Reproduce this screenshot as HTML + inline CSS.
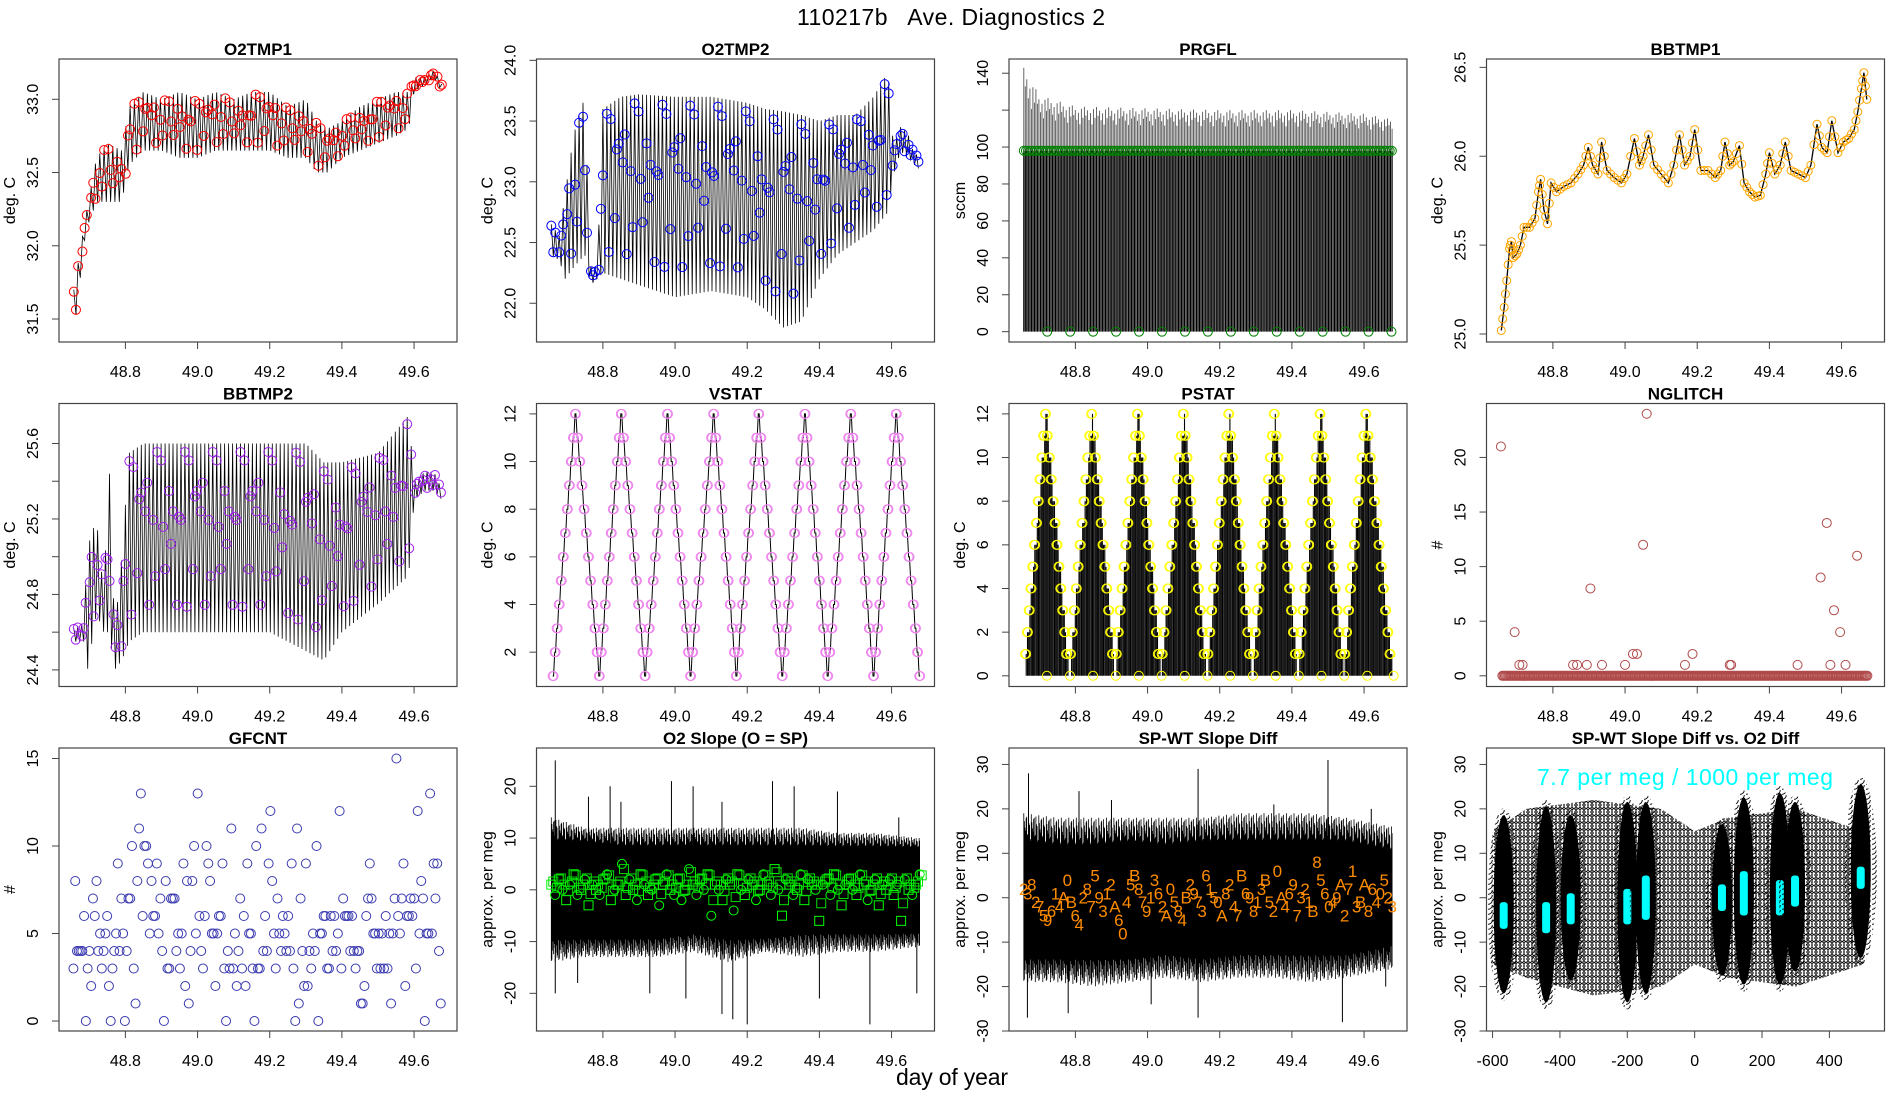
<!DOCTYPE html>
<html><head><meta charset="utf-8"><title>110217b Ave. Diagnostics 2</title>
<style>
html,body{margin:0;padding:0;background:#fff;}
svg{display:block;font-family:"Liberation Sans",sans-serif;}
</style></head>
<body>
<svg id="chart" xmlns="http://www.w3.org/2000/svg" width="1900" height="1100" viewBox="0 0 1900 1100">
<defs>
<pattern id="circpat" width="8" height="7" patternUnits="userSpaceOnUse">
<circle cx="4" cy="3.5" r="4.3" fill="none" stroke="#000" stroke-width="0.8"/>
<circle cx="0" cy="0" r="4.3" fill="none" stroke="#000" stroke-width="0.8"/>
<circle cx="8" cy="0" r="4.3" fill="none" stroke="#000" stroke-width="0.8"/>
<circle cx="0" cy="7" r="4.3" fill="none" stroke="#000" stroke-width="0.8"/>
<circle cx="8" cy="7" r="4.3" fill="none" stroke="#000" stroke-width="0.8"/>
</pattern>
<pattern id="circpat2" width="6" height="5" patternUnits="userSpaceOnUse">
<circle cx="3" cy="2.5" r="4.3" fill="none" stroke="#000" stroke-width="0.9"/>
<circle cx="0" cy="0" r="4.3" fill="none" stroke="#000" stroke-width="0.9"/>
</pattern>
</defs>
<text x="797" y="25" font-size="23" textLength="308" xml:space="preserve">110217b   Ave. Diagnostics 2</text>
<text x="896" y="1085" font-size="23" textLength="112">day of year</text>
</svg>
<script>
// ---------- data ----------
const p1T=[48.657,48.69,48.72,48.75,48.79,48.81,48.85,48.9,48.95,49.0,49.05,49.1,49.15,49.2,49.25,49.3,49.33,49.36,49.4,49.45,49.5,49.55,49.585,49.6,49.63,49.655,49.678];
const p1Lo=[31.4,32.1,32.3,32.3,32.3,32.55,32.65,32.65,32.6,32.6,32.65,32.65,32.65,32.65,32.6,32.6,32.5,32.5,32.6,32.65,32.7,32.75,32.8,33.05,33.1,33.15,33.05];
const p1Hi=[31.7,32.2,32.6,32.7,32.65,32.95,33.05,33.0,33.05,33.0,33.05,33.0,33.05,33.05,32.95,33.0,32.85,32.8,32.85,32.95,33.0,33.05,33.05,33.15,33.15,33.2,33.1];

const p2T=[48.657,48.68,48.695,48.72,48.75,48.765,48.785,48.8,48.85,48.9,49.0,49.1,49.2,49.25,49.3,49.35,49.4,49.45,49.5,49.55,49.59,49.605,49.625,49.645,49.66,49.678];
const p2Lo=[22.4,22.35,22.2,22.3,22.4,22.15,22.2,22.25,22.2,22.15,22.05,22.1,22.05,21.95,21.8,21.85,22.2,22.4,22.5,22.6,22.75,23.05,23.25,23.2,23.15,23.1];
const p2Hi=[22.65,22.55,22.9,23.4,23.7,22.3,22.3,23.6,23.7,23.72,23.7,23.7,23.65,23.6,23.58,23.55,23.5,23.55,23.55,23.7,23.9,23.3,23.45,23.4,23.25,23.2];

const p3TopT=[48.657,48.68,48.7,48.75,48.8,49.0,49.2,49.4,49.6,49.678];
const p3TopV=[143,135,128,125,122,121,120,120,118,115];
const p3Level=98;

const p4T=[48.657,48.665,48.672,48.68,48.685,48.69,48.7,48.71,48.72,48.735,48.75,48.76,48.766,48.775,48.785,48.795,48.81,48.83,48.85,48.87,48.885,48.898,48.91,48.925,48.935,48.95,48.97,48.99,49.005,49.026,49.04,49.05,49.065,49.08,49.1,49.12,49.135,49.151,49.165,49.18,49.193,49.21,49.23,49.25,49.265,49.277,49.29,49.3,49.317,49.33,49.345,49.36,49.375,49.39,49.4,49.415,49.43,49.444,49.46,49.48,49.5,49.515,49.532,49.545,49.56,49.573,49.59,49.605,49.62,49.635,49.645,49.655,49.662,49.67];
const p4V=[25.02,25.15,25.3,25.48,25.52,25.43,25.45,25.5,25.6,25.6,25.65,25.8,25.87,25.7,25.62,25.85,25.8,25.83,25.85,25.9,25.95,26.05,25.95,25.9,26.08,25.92,25.88,25.85,25.9,26.1,25.95,26.0,26.12,25.95,25.9,25.85,25.95,26.12,25.95,26.0,26.15,25.92,25.92,25.88,25.92,26.08,25.95,25.97,26.06,25.85,25.8,25.77,25.78,25.9,26.02,25.9,25.95,26.08,25.92,25.9,25.88,25.95,26.18,26.05,26.02,26.2,26.02,26.08,26.1,26.15,26.25,26.38,26.47,26.32];

const p5T=[48.657,48.685,48.695,48.72,48.74,48.755,48.77,48.79,48.81,48.85,48.9,49.0,49.1,49.2,49.3,49.35,49.4,49.5,49.585,49.6,49.63,49.655,49.678];
const p5Lo=[24.55,24.55,24.4,24.7,24.6,24.6,24.4,24.45,24.55,24.6,24.6,24.6,24.6,24.6,24.5,24.45,24.6,24.75,24.9,25.3,25.35,25.35,25.3];
const p5Hi=[24.62,24.65,25.05,25.2,24.8,25.5,24.6,25.0,25.55,25.6,25.6,25.6,25.6,25.6,25.6,25.5,25.5,25.55,25.75,25.4,25.45,25.45,25.35];

const p6PeakT=[48.724,48.851,48.979,49.107,49.232,49.36,49.487,49.613];
const p6TroughT=[48.662,48.79,48.917,49.043,49.17,49.297,49.423,49.55,49.678];
const p6PeakV=12, p6TroughV=1;

const p7PeakT=[48.717,48.845,48.972,49.099,49.225,49.351,49.478,49.605];
const p7TroughT=[48.657,48.781,48.908,49.035,49.162,49.288,49.415,49.541,49.678];
const p7PeakV=12, p7TroughV=0;

const p8T=[48.656,48.694,48.707,48.716,48.856,48.867,48.894,48.904,48.936,49.0,49.022,49.033,49.05,49.06,49.166,49.187,49.29,49.294,49.478,49.542,49.559,49.569,49.579,49.596,49.611,49.643];
const p8V=[21,4,1,1,1,1,1,8,1,1,2,2,12,24,1,2,1,1,1,9,14,1,6,4,1,11];
const p8ZeroRange=[48.66,49.675];

const p9V=[3,8,4,4,4,4,6,0,3,4,2,7,6,8,4,5,3,4,5,6,2,0,3,4,5,9,4,7,5,0,4,7,7,10,3,1,8,11,13,6,10,10,9,5,8,6,6,9,5,7,4,0,8,3,3,7,7,7,4,5,3,5,9,2,8,1,4,8,10,5,13,6,4,3,6,10,9,8,5,5,2,5,6,6,9,3,0,4,3,11,3,5,2,4,7,3,6,2,9,5,5,3,0,10,3,3,11,4,6,4,9,12,8,5,3,7,5,4,6,5,4,6,4,9,3,0,11,1,7,4,2,9,2,4,3,5,4,10,0,5,5,6,6,3,3,6,4,6,4,5,12,3,7,6,6,6,4,6,4,3,4,4,1,1,2,6,7,9,7,5,5,3,5,3,5,3,6,3,5,1,5,7,15,6,5,7,9,2,6,6,7,6,7,3,12,5,8,7,0,5,5,13,5,9,7,9,4,1];
const p9Range=[48.656,49.674];

const p10T=[48.657,48.75,48.85,48.95,49.05,49.15,49.25,49.35,49.45,49.55,49.678];
const p10InHi=[9,9,8,8,8,8,8,8,8,8,8];
const p10InLo=[-9,-9,-9,-9,-8,-9,-9,-8,-8,-8,-8];
const p10OutHi=[14,12,12,12,12,12,12,12,11,11,10];
const p10OutLo=[-14,-13,-13,-13,-12,-14,-12,-13,-12,-12,-11];
const p10SpikeT=[48.668,48.668,48.73,48.76,48.82,48.85,48.93,48.99,49.03,49.05,49.13,49.13,49.16,49.2,49.27,49.33,49.4,49.45,49.54,49.62,49.67];
const p10SpikeV=[25,-20,-18,18,20,17,-20,21,-21,20,17,-24,-25,-26,21,20,-21,19,-26,14,-20];
const p10G=[1,-1,2,0,-2,1,3,-1,0,2,-3,1,0,-1,2,3,-2,0,1,5,-1,2,0,-2,3,1,-1,0,2,-3,1,3,0,-1,2,-2,0,4,1,-1,2,0,3,-5,1,0,-2,2,1,-4,3,0,-1,2,1,-2,0,3,1,-1,4,0,-5,2,1,-1,0,3,-2,2,1,0,-6,1,2,-1,3,0,-3,1,2,0,-1,3,1,-2,0,2,-3,1,0,2,-1,1,-6,2,0,-1,1,3];

const p11T=[48.657,48.75,48.85,48.95,49.05,49.15,49.25,49.35,49.45,49.55,49.678];
const p11InHi=[12,11,11,12,11,12,12,12,12,12,10];
const p11InLo=[-13,-13,-13,-13,-12,-13,-12,-12,-12,-12,-10];
const p11OutHi=[19,18,18,18,18,18,19,19,19,18,16];
const p11OutLo=[-19,-19,-20,-19,-18,-19,-18,-18,-19,-18,-16];
const p11SpikeT=[48.667,48.67,48.78,48.81,48.9,49.01,49.14,49.14,49.35,49.5,49.54,49.62,49.66];
const p11SpikeV=[-27,28,-26,24,22,-24,29,-27,21,31,-28,20,-20];
const p11Lab="2382759614A0B6428759312A6045B8791362A0584B29736150A8247B69813B520A4697321B856049A2713BA86405";
const p11V=[2,1,3,-1,-2,-4,-5,-3,1,-2,0,4,-1,-4,-6,0,2,-2,5,0,-3,1,3,-2,-5,-8,-1,3,5,2,-1,-3,0,4,1,-2,-4,2,-1,-3,-5,0,3,1,-1,-3,5,2,0,-1,-4,1,3,-2,-4,5,1,0,-3,-1,2,4,-1,-3,6,0,-2,1,3,-4,0,2,-1,-3,8,4,1,-2,-1,0,3,-4,2,6,-2,-1,3,-3,2,-1,1,4,0,-2];

const p12ClX=[-567,-441,-368,-200,-145,81,146,253,298,493];
const p12ClLo=[-22,-24,-19,-24,-22,-18,-20,-20,-17,-14];
const p12ClHi=[19,21,19,22,22,17,23,24,22,26];
const p12CyLo=[-7,-8,-6,-6,-5,-3,-4,-4,-2,2];
const p12CyHi=[-1,-1,1,2,5,3,6,4,5,7];
const p12BgX=[-600,-500,-300,-100,0,100,300,500];
const p12BgLo=[-15,-18,-22,-20,-15,-18,-20,-15];
const p12BgHi=[15,20,22,20,15,18,20,15];

// ---------- helpers ----------
const NS='http://www.w3.org/2000/svg';
const svg=document.getElementById('chart');
function el(tag,attrs,parent,name){
  const e=document.createElementNS(NS,tag);
  for(const k in attrs) e.setAttribute(k,attrs[k]);
  
  
  parent.appendChild(e);
  return e;
}
function interp(T,V,t){
  if(t<=T[0]) return V[0];
  for(let i=1;i<T.length;i++){ if(t<=T[i]){const f=(t-T[i-1])/(T[i]-T[i-1]);return V[i-1]+f*(V[i]-V[i-1]);} }
  return V[V.length-1];
}
const TD=[48.616,49.719];
const colX=[59,536.5,1009,1486.5], rowY=[59,403.5,748], PW=398, PH=283;
const timeTicks=[48.8,49.0,49.2,49.4,49.6];

function panel(c,r,name,title,xd,yd,xt,yt,ylab,xf,yf,yLabelSkip){
  const x0=colX[c], y0=rowY[r];
  const g=el('g',{},svg,name);
  const sx=v=>x0+(v-xd[0])/(xd[1]-xd[0])*PW;
  const sy=v=>y0+PH-(v-yd[0])/(yd[1]-yd[0])*PH;
  const cid='clip-'+name;
  const cp=el('clipPath',{id:cid},g,name+'-clip');
  el('rect',{x:x0,y:y0,width:PW,height:PH},cp,name+'-clip-rect');
  const plot=el('g',{'clip-path':'url(#'+cid+')'},g,name+'-plot-area');
  const ax=el('g',{},g,name+'-axes');
  el('rect',{x:x0,y:y0,width:PW,height:PH,fill:'none',stroke:'#444','stroke-width':1.2},ax,name+'-frame');
  const tt=el('text',{x:x0+PW/2,y:y0-4,'text-anchor':'middle','font-size':17,'font-weight':'bold'},ax,name+'-title');
  tt.textContent=title;
  xt.forEach(v=>{
    const X=sx(v);
    el('line',{x1:X,x2:X,y1:y0+PH,y2:y0+PH+7,stroke:'#444'},ax,name+'-x-tick');
    const t=el('text',{x:X,y:y0+PH+35,'text-anchor':'middle','font-size':16},ax,name+'-x-tick-label');
    t.textContent=xf(v);
  });
  yt.forEach((v,i)=>{
    const Y=sy(v);
    el('line',{x1:x0-7,x2:x0,y1:Y,y2:Y,stroke:'#444'},ax,name+'-y-tick');
    if(yLabelSkip && yLabelSkip.includes(i)) return;
    const t=el('text',{transform:'translate('+(x0-21)+','+Y+') rotate(-90)','text-anchor':'middle','font-size':16},ax,name+'-y-tick-label');
    t.textContent=yf(v);
  });
  const yl=el('text',{transform:'translate('+(x0-44)+','+(y0+PH/2)+') rotate(-90)','text-anchor':'middle','font-size':16},ax,name+'-y-axis-title');
  yl.textContent=ylab;
  return {sx,sy,plot,x0,y0};
}
const f1=v=>v.toFixed(1), f0=v=>String(Math.round(v));

function zig(p,T,Lo,Hi,h,color,name){
  const pts=[]; let k=0;
  for(let t=T[0];t<=T[T.length-1]+1e-9;t+=h){
    const lo=interp(T,Lo,t), hi=interp(T,Hi,t);
    pts.push([t,(k%2?lo:hi),lo,hi]); k++;
  }
  el('path',{d:'M'+pts.map(q=>p.sx(q[0]).toFixed(1)+','+p.sy(q[1]).toFixed(1)).join('L'),fill:'none',stroke:'#000','stroke-width':0.8},p.plot,name+'-line');
  const pull=[0.05,0.62,0.28,0.88,0.45,0.15,0.74,0.52,0.95,0.33,0.1,0.8,0.4,0.68];
  pts.forEach((q,i)=>{
    if(i%4===3) return;
    const f=pull[(i*5)%14];
    const v=q[1]+((q[1]===q[3]?q[2]:q[3])-q[1])*f*0.9;
    el('circle',{cx:p.sx(q[0]),cy:p.sy(v),r:4.5,fill:'none',stroke:color,'stroke-width':1},p.plot,name+'-point');
  });
}
function stairPts(peaks,troughs,pv,tv){
  const verts=[];
  troughs.forEach((t,i)=>{verts.push([t,tv]); if(i<peaks.length) verts.push([peaks[i],pv]);});
  const out=[];
  for(let s=0;s<verts.length-1;s++){
    const a=verts[s], b=verts[s+1]; const n=Math.abs(b[1]-a[1]); const sg=Math.sign(b[1]-a[1]);
    for(let i=(s===0?0:1);i<=n;i++) out.push([a[0]+(b[0]-a[0])*i/n, a[1]+sg*i]);
  }
  return out;
}
function stairAt(pts,t){
  let v=pts[0][1];
  for(const q of pts){ if(q[0]<=t) v=q[1]; }
  return v;
}
function noise(p,T,InLo,InHi,OutLo,OutHi,step,name){
  const fr=[1,0.55,0.85,0.3,0.95,0.65,0.2,0.75,0.45,0.9,0.35,0.7,0.15];
  let d='', k=0;
  for(let t=T[0];t<=T[T.length-1];t+=step){
    const ih=interp(T,InHi,t), il=interp(T,InLo,t), oh=interp(T,OutHi,t), ol=interp(T,OutLo,t);
    const top=ih+(oh-ih)*fr[(k*7)%13], bot=il+(ol-il)*fr[(k*5+4)%13];
    d+='M'+p.sx(t).toFixed(1)+','+p.sy(bot).toFixed(1)+'V'+p.sy(top).toFixed(1); k++;
  }
  el('path',{d:d,stroke:'#000','stroke-width':0.8,fill:'none'},p.plot,name+'-noise');
  let d2='M'+T.map((t,i)=>p.sx(t).toFixed(1)+','+p.sy(InHi[i]).toFixed(1)).join('L');
  for(let i=T.length-1;i>=0;i--) d2+='L'+p.sx(T[i]).toFixed(1)+','+p.sy(InLo[i]).toFixed(1);
  el('path',{d:d2+'Z',fill:'#000'},p.plot,name+'-core');
}

// ---------- Panel 1: O2TMP1 ----------
const P1=panel(0,0,'o2tmp1-panel','O2TMP1',TD,[31.343,33.275],timeTicks,[31.5,32.0,32.5,33.0],'deg. C',f1,f1);
zig(P1,p1T,p1Lo,p1Hi,0.006,'#ff0000','o2tmp1');

// ---------- Panel 2: O2TMP2 ----------
const P2=panel(1,0,'o2tmp2-panel','O2TMP2',TD,[21.681,24.011],timeTicks,[22.0,22.5,23.0,23.5,24.0],'deg. C',f1,f1);
zig(P2,p2T,p2Lo,p2Hi,0.0055,'#0000ff','o2tmp2');

// ---------- Panel 3: PRGFL ----------
const P3=panel(2,0,'prgfl-panel','PRGFL',TD,[-5.6,147.7],timeTicks,[0,20,40,60,80,100,120,140],'sccm',f1,f0,[6]);
(function(){
  const fr=[1,0.8,0.92,0.7,0.86,0.6,0.95,0.75];
  let dTop='', dBot='', k=0;
  const t0=p3TopT[0], t1=p3TopT[p3TopT.length-1];
  for(let t=t0;t<=t1;t+=0.0042){
    const top=p3Level+(interp(p3TopT,p3TopV,t)-p3Level)*fr[k%8];
    const X=P3.sx(t).toFixed(1);
    dTop+='M'+X+','+P3.sy(p3Level)+'V'+P3.sy(top).toFixed(1);
    dBot+='M'+X+','+P3.sy(0)+'V'+P3.sy(p3Level);
    k++;
  }
  el('path',{d:dTop,stroke:'#555','stroke-width':0.9},P3.plot,'prgfl-upper-lines');
  el('path',{d:dBot,stroke:'#000','stroke-width':1.2},P3.plot,'prgfl-bars');
  for(let t=t0;t<=t1;t+=0.006){
    el('circle',{cx:P3.sx(t),cy:P3.sy(p3Level),r:4.5,fill:'none',stroke:'#008000','stroke-width':1},P3.plot,'prgfl-level-point');
  }
  for(let t=48.722;t<=t1+0.005;t+=0.0636){
    el('circle',{cx:P3.sx(t),cy:P3.sy(0),r:4.5,fill:'none',stroke:'#008000','stroke-width':1},P3.plot,'prgfl-zero-point');
  }
})();

// ---------- Panel 4: BBTMP1 ----------
const P4=panel(3,0,'bbtmp1-panel','BBTMP1',TD,[24.955,26.547],timeTicks,[25.0,25.5,26.0,26.5],'deg. C',f1,f1);
el('path',{d:'M'+p4T.map((t,i)=>P4.sx(t).toFixed(1)+','+P4.sy(p4V[i]).toFixed(1)).join('L'),fill:'none',stroke:'#000','stroke-width':1.3},P4.plot,'bbtmp1-line');
p4T.forEach((t,i)=>{
  el('circle',{cx:P4.sx(t),cy:P4.sy(p4V[i]),r:4,fill:'none',stroke:'#ffa500','stroke-width':1},P4.plot,'bbtmp1-point');
  if(i<p4T.length-1){
    el('circle',{cx:P4.sx((t+p4T[i+1])/2),cy:P4.sy((p4V[i]+p4V[i+1])/2),r:4,fill:'none',stroke:'#ffa500','stroke-width':1},P4.plot,'bbtmp1-point');
  }
});

// ---------- Panel 5: BBTMP2 ----------
const P5=panel(0,1,'bbtmp2-panel','BBTMP2',TD,[24.312,25.812],timeTicks,[24.4,24.6,24.8,25.0,25.2,25.4,25.6],'deg. C',f1,f1,[1,3,5]);
zig(P5,p5T,p5Lo,p5Hi,0.0055,'#a020f0','bbtmp2');

// ---------- Panel 6: VSTAT ----------
const P6=panel(1,1,'vstat-panel','VSTAT',TD,[0.559,12.436],timeTicks,[2,4,6,8,10,12],'deg. C',f1,f0);
(function(){
  const pts=stairPts(p6PeakT,p6TroughT,p6PeakV,p6TroughV);
  const w=0.0026; let d='';
  pts.forEach((q,i)=>{
    const a=P6.sx(q[0]-w/2).toFixed(1), b=P6.sx(q[0]+w/2).toFixed(1), y=P6.sy(q[1]).toFixed(1);
    d+=(i?'L':'M')+a+','+y+'L'+b+','+y;
  });
  el('path',{d:d,fill:'none',stroke:'#000','stroke-width':1},P6.plot,'vstat-line');
  pts.forEach(q=>{
    [q[0]-w/2,q[0]+w/2].forEach(t=>el('circle',{cx:P6.sx(t),cy:P6.sy(q[1]),r:4.5,fill:'none',stroke:'#ee82ee','stroke-width':1},P6.plot,'vstat-point'));
  });
})();

// ---------- Panel 7: PSTAT ----------
const P7=panel(2,1,'pstat-panel','PSTAT',TD,[-0.49,12.476],timeTicks,[0,2,4,6,8,10,12],'deg. C',f1,f0);
(function(){
  const pts=stairPts(p7PeakT,p7TroughT,p7PeakV,p7TroughV);
  let d='';
  const t0=p7TroughT[0], t1=p7TroughT[p7TroughT.length-1];
  for(let t=t0;t<=t1;t+=0.0034){
    const v=stairAt(pts,t);
    d+='M'+P7.sx(t).toFixed(1)+','+P7.sy(0).toFixed(1)+'V'+P7.sy(v).toFixed(1);
  }
  el('path',{d:d,stroke:'#000','stroke-width':1.1},P7.plot,'pstat-lines');
  const w=0.0028;
  pts.forEach(q=>{
    if(q[1]===0) return;
    [q[0]-w/2,q[0]+w/2].forEach(t=>el('circle',{cx:P7.sx(t),cy:P7.sy(q[1]),r:4.5,fill:'none',stroke:'#ffff00','stroke-width':1},P7.plot,'pstat-point'));
  });
  const all=p7PeakT.concat(p7TroughT.slice(1));
  all.forEach(t=>el('circle',{cx:P7.sx(t+0.004),cy:P7.sy(0),r:4.5,fill:'none',stroke:'#ffff00','stroke-width':1},P7.plot,'pstat-zero-point'));
})();

// ---------- Panel 8: NGLITCH ----------
const P8=panel(3,1,'nglitch-panel','NGLITCH',TD,[-0.98,24.94],timeTicks,[0,5,10,15,20],'#',f1,f0);
for(let t=p8ZeroRange[0];t<=p8ZeroRange[1];t+=0.0035){
  el('circle',{cx:P8.sx(t),cy:P8.sy(0),r:4.5,fill:'none',stroke:'#b04a4a','stroke-width':1},P8.plot,'nglitch-zero-point');
}
p8T.forEach((t,i)=>el('circle',{cx:P8.sx(t),cy:P8.sy(p8V[i]),r:4.5,fill:'none',stroke:'#b04a4a','stroke-width':1},P8.plot,'nglitch-point'));

// ---------- Panel 9: GFCNT ----------
const P9=panel(0,2,'gfcnt-panel','GFCNT',TD,[-0.57,15.6],timeTicks,[0,5,10,15],'#',f1,f0);
p9V.forEach((v,i)=>{
  const t=p9Range[0]+(p9Range[1]-p9Range[0])*i/(p9V.length-1);
  el('circle',{cx:P9.sx(t),cy:P9.sy(v),r:4.5,fill:'none',stroke:'#3a3ab0','stroke-width':1},P9.plot,'gfcnt-point');
});

// ---------- Panel 10: O2 Slope ----------
const P10=panel(1,2,'o2-slope-panel','O2 Slope (O = SP)',TD,[-27.28,27.4],timeTicks,[-20,-10,0,10,20],'approx. per meg',f1,f0);
noise(P10,p10T,p10InLo,p10InHi,p10OutLo,p10OutHi,0.0016,'o2-slope');
p10SpikeT.forEach((t,i)=>el('line',{x1:P10.sx(t),x2:P10.sx(t),y1:P10.sy(0),y2:P10.sy(p10SpikeV[i]),stroke:'#000','stroke-width':1},P10.plot,'o2-slope-spike'));
p10G.forEach((v,i)=>{
  const t=p10T[0]+(p10T[p10T.length-1]-p10T[0])*i/(p10G.length-1);
  const X=P10.sx(t), Y=P10.sy(v);
  if(i%2===0) el('rect',{x:X-4.5,y:Y-4.5,width:9,height:9,fill:'none',stroke:'#00ff00','stroke-width':1},P10.plot,'o2-slope-square');
  else el('circle',{cx:X,cy:Y,r:4.5,fill:'none',stroke:'#00ff00','stroke-width':1},P10.plot,'o2-slope-circle');
  el('rect',{x:X-2.5,y:P10.sy(v*0.6+1)-4.5,width:9,height:9,fill:'none',stroke:'#00dd00','stroke-width':1},P10.plot,'o2-slope-square');
});

// ---------- Panel 11: SP-WT Slope Diff ----------
const P11=panel(2,2,'spwt-panel','SP-WT Slope Diff',TD,[-30,33.7],timeTicks,[-30,-20,-10,0,10,20,30],'approx. per meg',f1,f0);
noise(P11,p11T,p11InLo,p11InHi,p11OutLo,p11OutHi,0.0016,'spwt');
p11SpikeT.forEach((t,i)=>el('line',{x1:P11.sx(t),x2:P11.sx(t),y1:P11.sy(0),y2:P11.sy(p11SpikeV[i]),stroke:'#000','stroke-width':1},P11.plot,'spwt-spike'));
p11V.forEach((v,i)=>{
  const t=p11T[0]+(p11T[p11T.length-1]-p11T[0])*i/(p11V.length-1);
  const tx=el('text',{x:P11.sx(t),y:P11.sy(v)+6,'text-anchor':'middle','font-size':17,fill:'#ff8c00'},P11.plot,'spwt-label');
  tx.textContent=p11Lab[i%p11Lab.length];
});

// ---------- Panel 12: SP-WT Slope Diff vs O2 Diff ----------
const P12=panel(3,2,'spwt-vs-o2-panel','SP-WT Slope Diff vs. O2 Diff',[-618,563.6],[-30,33.7],[-600,-400,-200,0,200,400],[-30,-20,-10,0,10,20,30],'approx. per meg',f0,f0);
(function(){
  let d='M'+p12BgX.map((x,i)=>P12.sx(x).toFixed(1)+','+P12.sy(p12BgHi[i]).toFixed(1)).join('L');
  for(let i=p12BgX.length-1;i>=0;i--) d+='L'+P12.sx(p12BgX[i]).toFixed(1)+','+P12.sy(p12BgLo[i]).toFixed(1);
  el('path',{d:d+'Z',fill:'url(#circpat)'},P12.plot,'spwt-vs-o2-background-points');
  p12ClX.forEach((x,i)=>{
    const X=P12.sx(x), yt=P12.sy(p12ClHi[i]), yb=P12.sy(p12ClLo[i]);
    const cy=(yt+yb)/2, ry=(yb-yt)/2;
    el('ellipse',{cx:X,cy:cy,rx:16,ry:ry+5,fill:'url(#circpat2)'},P12.plot,'spwt-vs-o2-cluster-edge');
    el('ellipse',{cx:X,cy:cy,rx:10,ry:ry-2,fill:'#000'},P12.plot,'spwt-vs-o2-cluster');
    const cl=P12.sy(p12CyLo[i]), ch=P12.sy(p12CyHi[i]);
    el('rect',{x:X-4,y:ch,width:8,height:Math.max(cl-ch,4),rx:3,fill:'#00ffff'},P12.plot,'spwt-vs-o2-highlight');
  });
  const lab=el('text',{x:1537,y:785,'font-size':23,fill:'#00ffff',textLength:296},P12.plot,'spwt-vs-o2-annotation');
  lab.textContent='7.7 per meg / 1000 per meg';
})();
</script>
</body></html>
